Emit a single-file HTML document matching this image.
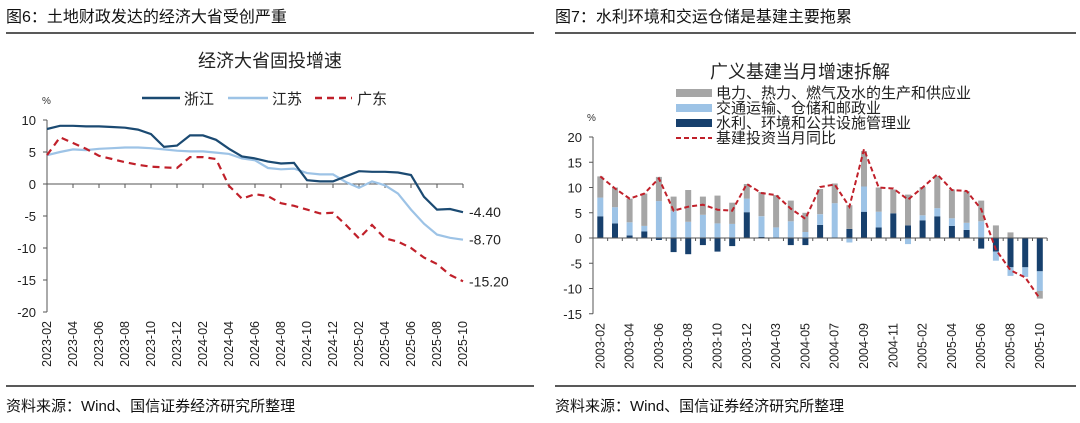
<!DOCTYPE html>
<html><head><meta charset="utf-8">
<style>
html,body{margin:0;padding:0;background:#fff;}
svg{display:block;font-family:"Liberation Sans","Noto Sans CJK SC",sans-serif;}
</style></head>
<body>
<svg id="s" width="1080" height="423" xmlns="http://www.w3.org/2000/svg">
<rect width="1080" height="423" fill="#fff"/>
<text x="6" y="22" font-size="16" fill="#111">图6：土地财政发达的经济大省受创严重</text>
<text x="555" y="22" font-size="16" fill="#111">图7：水利环境和交运仓储是基建主要拖累</text>
<line x1="6" y1="33" x2="534" y2="33" stroke="#222" stroke-width="1.5"/>
<line x1="555" y1="33" x2="1076" y2="33" stroke="#222" stroke-width="1.5"/>
<line x1="6" y1="386" x2="534" y2="386" stroke="#222" stroke-width="1.5"/>
<line x1="555" y1="386" x2="1076" y2="386" stroke="#222" stroke-width="1.5"/>
<text x="6" y="411" font-size="15" fill="#111">资料来源：Wind、国信证券经济研究所整理</text>
<text x="555" y="411" font-size="15" fill="#111">资料来源：Wind、国信证券经济研究所整理</text>
<text x="270" y="67" font-size="18" text-anchor="middle" fill="#222">经济大省固投增速</text>
<text x="800" y="78" font-size="18" text-anchor="middle" fill="#222">广义基建当月增速拆解</text>
<g id="g"></g>
</svg>
<script>
var g=document.getElementById('g'),h='';
function T(x,y,t,o){h+='<text x="'+x+'" y="'+y+'" '+(o||'')+'>'+t+'</text>';}
function L(x1,y1,x2,y2,o){h+='<line x1="'+x1+'" y1="'+y1+'" x2="'+x2+'" y2="'+y2+'" '+(o||'stroke="#555"')+'/>';}
var x0=47,dx=13,y0=184,sy=6.4;
function Y(v){return y0-v*sy;}
L(x0,Y(10),x0,Y(-20));
for(var v=10;v>=-20;v-=5){T(36,Y(v)+5,v,'font-size="13" text-anchor="end" fill="#222"');L(x0-4,Y(v),x0,Y(v));}
L(x0,y0,x0+32*dx,y0);
for(var i=0;i<=32;i+=2)L(x0+i*dx,y0,x0+i*dx,y0+4);
T(42,104,'%','font-size="10" fill="#333"');
var labs=[];for(var yy=2023;yy<=2025;yy++)for(var m=1;m<=12;m++)labs.push(yy+'-'+(m<10?'0':'')+m);
labs=labs.slice(1,34);
for(var i=0;i<=32;i+=2){var x=x0+i*dx+4;T(0,0,labs[i],'font-size="12.5" fill="#222" text-anchor="end" transform="translate('+x+',321) rotate(-90)"');}
var zj=[8.6,9.1,9.1,9.0,9.0,8.9,8.8,8.5,7.8,5.8,6.0,7.6,7.6,6.9,5.5,4.3,4.0,3.5,3.2,3.3,0.6,0.4,0.4,1.2,2.0,1.9,1.9,1.8,1.4,-2.0,-4.0,-3.9,-4.4];
var js=[4.5,5.0,5.4,5.3,5.5,5.6,5.7,5.7,5.6,5.4,5.2,5.1,5.1,4.9,4.7,4.0,3.7,2.5,2.3,2.4,1.7,1.5,1.5,0.3,-0.6,0.4,-0.2,-1.5,-4.0,-6.2,-7.9,-8.4,-8.7];
var gd=[4.5,7.3,6.4,5.5,4.4,3.9,3.4,3.0,2.7,2.6,2.5,4.2,4.2,3.9,-0.3,-2.3,-1.6,-1.9,-3.0,-3.4,-4.0,-4.6,-4.5,-6.4,-8.5,-6.4,-8.5,-9.0,-10.0,-11.5,-12.5,-14.2,-15.2];
function P(a){return a.map(function(v,i){return (x0+i*dx).toFixed(1)+','+Y(v).toFixed(1);}).join(' ');}
h+='<polyline points="'+P(js)+'" fill="none" stroke="#9dc3e6" stroke-width="2.2"/>';
h+='<polyline points="'+P(zj)+'" fill="none" stroke="#1b4a72" stroke-width="2.2"/>';
h+='<polyline points="'+P(gd)+'" fill="none" stroke="#c0202a" stroke-width="2.2" stroke-dasharray="7,5"/>';
T(469,Y(-4.4)+5,'-4.40','font-size="14" fill="#222"');
T(469,Y(-8.7)+5,'-8.70','font-size="14" fill="#222"');
T(469,Y(-15.2)+5,'-15.20','font-size="14" fill="#222"');
L(142,98,180,98,'stroke="#1b4a72" stroke-width="2.5"');T(184,104,'浙江','font-size="15" fill="#222"');
L(228,98,268,98,'stroke="#9dc3e6" stroke-width="2.5"');T(272,104,'江苏','font-size="15" fill="#222"');
L(315,98,352,98,'stroke="#c0202a" stroke-width="2.5" stroke-dasharray="7,5"');T(357,104,'广东','font-size="15" fill="#222"');
var X0=593,DX=14.65,YY0=238,SY=5.05;
function R(v){return YY0-v*SY;}
L(X0,R(20),X0,R(-15));
for(var v=20;v>=-15;v-=5){T(582,R(v)+5,v,'font-size="13" text-anchor="end" fill="#222"');L(X0-4,R(v),X0,R(v));}
var rl=['2003-02','2003-04','2003-06','2003-08','2003-10','2003-12','2004-03','2004-05','2004-07','2004-09','2004-11','2005-02','2005-04','2005-06','2005-08','2005-10'];
var B=[[4.3,8,12.2,12.2],[2.9,6.1,10,9.8],[0.5,3.1,7.8,7.8],[1.3,2.4,8.8,8.8],[-0.4,7.3,12.1,11.8],[-2.8,5.3,8.2,5.4],[-3.2,3.2,9.5,6.2],[-1.4,4.6,8.2,6.6],[-2.7,2.9,8.4,5.6],[-1.6,2.8,7.0,5.4],[5.1,7.8,10.7,10.7],[0.2,4.3,9.1,8.9],[0,2.1,8.5,8.5],[-1.4,3.3,7.4,5.8],[-1.4,1.2,5.0,3.8],[2.6,4.7,9.7,10.1],[0.1,6.9,10.8,10.6],[1.8,-0.9,6.5,6.2],[5.2,10.2,17.2,17.6],[2.1,5.2,10,10],[4.9,4.9,9.6,9.8],[2.5,-1.2,8.6,7.6],[3.5,4.5,10.1,10],[4.3,5.9,12.3,12.6],[2.4,3.9,9.6,9.5],[1.6,3.0,9.3,9.3],[-2.1,3.3,7.4,5.7],[-2.7,-4.5,2.5,-2.3],[-5.8,-7.5,1.1,-6.4],[-5.8,-7.7,0,-7.8],[-6.6,-10.5,-12.0,-12.0]];
var bw=6,lp=[];
function rect(a,b,c){var t=R(Math.max(a,b)),bt=R(Math.min(a,b));h+='<rect x="'+(xx-bw/2).toFixed(1)+'" y="'+t.toFixed(1)+'" width="'+bw+'" height="'+(bt-t).toFixed(1)+'" fill="'+c+'"/>';}
for(var i=0;i<B.length;i++){var xx=X0+DX*(i+0.5),d=B[i];
 var pos=d[0]>0?d[0]:0,neg=d[0]<0?d[0]:0;
 rect(0,d[0],'#17406d');
 var lt;
 if(d[1]>=0){rect(pos,d[1],'#9dc3e6');lt=Math.max(pos,d[1]);}else{rect(neg,d[1],'#9dc3e6');lt=pos;}
 if(d[2]>=0)rect(Math.max(lt,d[1]>0?d[1]:0),d[2],'#a6a6a6');else rect(d[1],d[2],'#a6a6a6');
 lp.push(xx.toFixed(1)+','+R(d[3]).toFixed(1));
}
L(X0,YY0,X0+31*DX,YY0);
for(var i=0;i<=31;i++)L(X0+i*DX,YY0,X0+i*DX,YY0+3);
h+='<polyline points="'+lp.join(' ')+'" fill="none" stroke="#c0202a" stroke-width="2" stroke-dasharray="5,3"/>';
for(var k=0;k<16;k++){var x=X0+DX*(2*k+0.5)+4;T(0,0,rl[k],'font-size="12.5" fill="#222" text-anchor="end" transform="translate('+x.toFixed(1)+',323) rotate(-90)"');}
T(587,121,'%','font-size="10" fill="#333"');
var lg=[['#a6a6a6','电力、热力、燃气及水的生产和供应业'],['#9dc3e6','交通运输、仓储和邮政业'],['#17406d','水利、环境和公共设施管理业']];
for(var k=0;k<3;k++){var y=93+k*15;h+='<rect x="676" y="'+(y-4)+'" width="36" height="8" fill="'+lg[k][0]+'"/>';T(716,y+5,lg[k][1],'font-size="15" fill="#222"');}
L(676,138,712,138,'stroke="#c0202a" stroke-width="2" stroke-dasharray="5,3"');T(716,143,'基建投资当月同比','font-size="15" fill="#222"');
g.innerHTML=h;
</script>
</body></html>
